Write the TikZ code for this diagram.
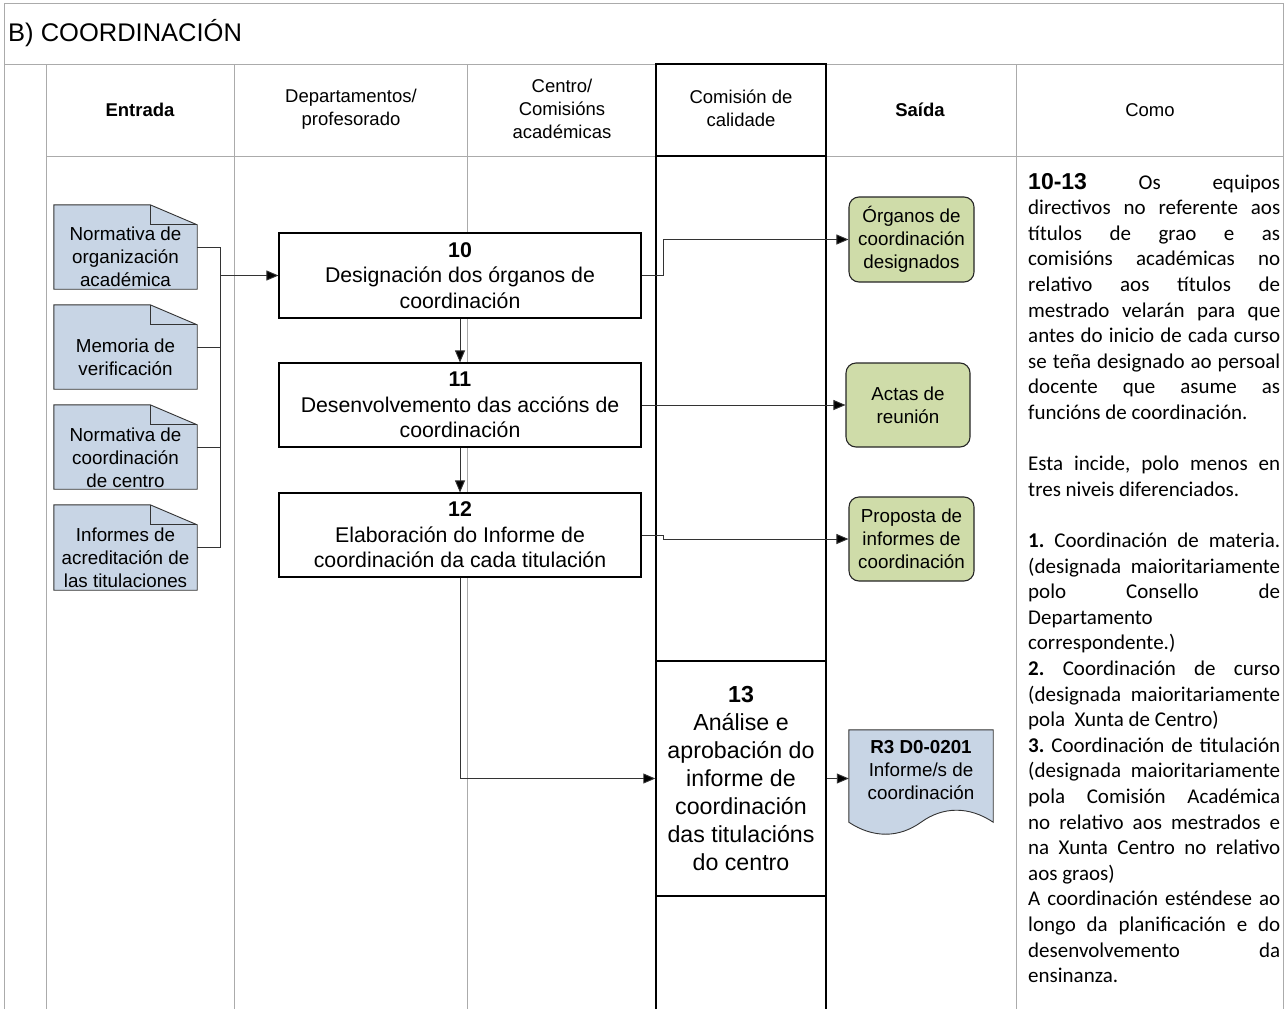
\documentclass[tikz,border=0pt]{standalone}
\usepackage{fontspec}
\setmainfont{Liberation Sans}
\newfontfamily\calibrifont{Carlito}
\usetikzlibrary{arrows.meta,calc}
\definecolor{lanegrey}{HTML}{ABABAB}
\definecolor{docblue}{HTML}{C8D5E5}
\definecolor{outgreen}{HTML}{CFDCA9}
\definecolor{linegrey}{HTML}{333333}
\frenchspacing
\newcommand{\foldeddoc}[1]{%
  \draw[docshape] (#1.north west) -- ($(#1.north east)+(-47,0)$) -- ($(#1.north east)+(0,20)$) -- (#1.south east) -- (#1.south west) -- cycle;
  \draw[docshape,fill=none] ($(#1.north east)+(-47,0)$) -- ($(#1.north east)+(-47,20)$) -- ($(#1.north east)+(0,20)$);}
\begin{document}
\begin{tikzpicture}[x=1pt,y=-1pt,
 lane/.style={draw=lanegrey, line width=1pt},
 lanedark/.style={draw=black, line width=1.4pt},
 hdr/.style={align=center, inner sep=0, font=\fontsize{18.5}{23}\selectfont},
 docbox/.style={minimum width=143pt, minimum height=84pt, inner sep=0},
 doctxt/.style={align=center, inner sep=0, font=\fontsize{18.8}{23}\selectfont},
 docshape/.style={draw=linegrey, fill=docblue, line width=0.9pt},
 stepbox/.style={draw=black, fill=white, line width=1.1pt, align=center, inner sep=0, minimum width=362pt, minimum height=85pt, font=\fontsize{21.3}{25.5}\selectfont},
 outbox/.style={draw=black!85, fill=outgreen, line width=1.1pt, rounded corners=10pt, align=center, inner sep=0, minimum width=125pt, minimum height=85pt, font=\fontsize{18.8}{23}\selectfont},
 conn/.style={draw=linegrey, line width=0.9pt},
 arr/.style={conn, -{Triangle[length=12pt,width=10pt,fill=black]}},
 como/.style={anchor=base west, inner sep=0, font=\calibrifont\fontsize{21}{25.6}\selectfont\frenchspacing}
]
\useasboundingbox (0,0) rectangle (1284,1009);
\fill[white] (0,0) rectangle (1284,1009);

% pool frame and lanes
\draw[lane] (4.5,1009) -- (4.5,3) -- (1283.5,3) -- (1283.5,1009);
\draw[lane] (4.5,64) -- (1283.5,64);
\draw[lane] (46,156) -- (1283.5,156);
\foreach \xx in {46,234,467,1016} \draw[lane] (\xx,64) -- (\xx,1009);
\draw[lanedark] (656,1009) -- (656,64) -- (826,64) -- (826,1009);
\draw[lanedark] (656,156) -- (826,156);

\node[anchor=west, inner sep=0, font=\fontsize{25.5}{30}\selectfont] (title) at (8,33) {B) COORDINACIÓN};

% headers
\node[hdr, font=\bfseries\fontsize{18.5}{23}\selectfont] (h1) at (140,110) {Entrada};
\node[hdr] (h2) at (351,109.5) {Departamentos/\\profesorado};
\node[hdr] (h3) at (562,109) {Centro/\\Comisións\\académicas};
\node[hdr] (h4) at (741,108.5) {Comisión de\\calidade};
\node[hdr, font=\bfseries\fontsize{18.5}{23}\selectfont] (h5) at (920,110) {Saída};
\node[hdr] (h6) at (1150,110) {Como};

% input documents
\node[docbox] (d1) at (125.5,247) {};
\node[docbox] (d2) at (125.5,347) {};
\node[docbox] (d3) at (125.5,447) {};
\node[docbox, minimum height=85pt] (d4) at (125.5,547.5) {};
\foldeddoc{d1}\foldeddoc{d2}\foldeddoc{d3}\foldeddoc{d4}
\node[doctxt] (d1t) at (125.5,257) {Normativa de\\organización\\académica};
\node[doctxt] (d2t) at (125.5,357) {Memoria de\\verificación};
\node[doctxt] (d3t) at (125.5,457.5) {Normativa de\\coordinación\\de centro};
\node[doctxt] (d4t) at (125.5,558) {Informes de\\acreditación de\\las titulaciones};

% steps
\node[stepbox] (b10) at (460,275.5) {\textbf{10}\\Designación dos órganos de\\coordinación};
\node[stepbox, minimum height=84pt] (b11) at (460,405) {\textbf{11}\\Desenvolvemento das accións de\\coordinación};
\node[stepbox, minimum height=84pt] (b12) at (460,535) {\textbf{12}\\Elaboración do Informe de\\coordinación da cada titulación};
\node[draw=black, fill=white, line width=1.4pt, align=center, inner sep=0, minimum width=170pt, minimum height=235pt, font=\fontsize{23.2}{28}\selectfont] (b13) at (741,778.5) {\textbf{13}\\Análise e\\aprobación do\\informe de\\coordinación\\das titulacións\\do centro};

% outputs
\node[outbox] (g1) at (911.5,239.5) {Órganos de\\coordinación\\designados};
\node[outbox, minimum width=124pt, minimum height=84pt] (g2) at (908,405) {Actas de\\reunión};
\node[outbox, minimum height=84pt] (g3) at (911.5,539) {Proposta de\\informes de\\coordinación};

\node[minimum width=144pt, minimum height=92pt, inner sep=0] (r3) at (921,776) {};
\draw[docshape] (r3.south west) -- (r3.north west) -- (r3.north east) -- (r3.south east)
  .. controls ($(r3.south east)+(-24,-16)$) and ($(r3.south east)+(-50,-16)$) .. ($(r3.south)+(0,0)$)
  .. controls ($(r3.south west)+(50,16)$) and ($(r3.south west)+(24,16)$) .. (r3.south west) -- cycle;
\node[doctxt] (r3t) at (921,770) {\textbf{R3 D0-0201}\\Informe/s de\\coordinación};

% connectors
\coordinate (bus) at (220,275.5);
\draw[conn] (d1.east) -- (d1.east -| bus) -- (d4.east -| bus) -- (d4.east);
\draw[conn] (d2.east) -- (d2.east -| bus);
\draw[conn] (d3.east) -- (d3.east -| bus);
\draw[arr] (bus) -- (b10.west);
\draw[arr] (b10.south) -- (b11.north);
\draw[arr] (b11.south) -- (b12.north);
\draw[arr] (b12.south) |- (b13.west);
\draw[arr] (b10.east) -- ++(22,0) |- (g1.west);
\draw[arr] (b11.east) -- (g2.west);
\draw[arr] (b12.east) -- ++(22,0) |- (g3.west);
\draw[arr] (b13.east) -- (b13.east -| r3.west);

% Como column text
\foreach \k/\t [count=\n] in {
 0/{{\rmfamily\bfseries\fontsize{23}{23}\selectfont 10-13} Os equipos},
 1/{directivos no referente aos},
 2/{títulos de grao e as},
 3/{comisións académicas no},
 4/{relativo aos títulos de},
 5/{mestrado velarán para que},
 6/{antes do inicio de cada curso},
 7/{se teña designado ao persoal},
 8/{docente que asume as},
 11/{Esta incide, polo menos en},
 14/{\textbf{1.} Coordinación de materia.},
 15/{(designada maioritariamente},
 16/{polo Consello de},
 19/{\textbf{2.} Coordinación de curso},
 20/{(designada maioritariamente},
 22/{\textbf{3.} Coordinación de titulación},
 23/{(designada maioritariamente},
 24/{pola Comisión Académica},
 25/{no relativo aos mestrados e},
 26/{na Xunta Centro no relativo},
 28/{A coordinación esténdese ao},
 29/{longo da planificación e do},
 30/{desenvolvemento da}}
 \node[como] (cj\n) at (1028,189+25.6*\k) {\makebox[252pt][s]{\t}};
\foreach \k/\t [count=\n] in {
 9/{funcións de coordinación.},
 12/{tres niveis diferenciados.},
 17/{Departamento},
 18/{correspondente.)},
 21/{pola \ Xunta de Centro)},
 27/{aos graos)},
 31/{ensinanza.}}
 \node[como] (cl\n) at (1028,189+25.6*\k) {\t};
\end{tikzpicture}
\end{document}
